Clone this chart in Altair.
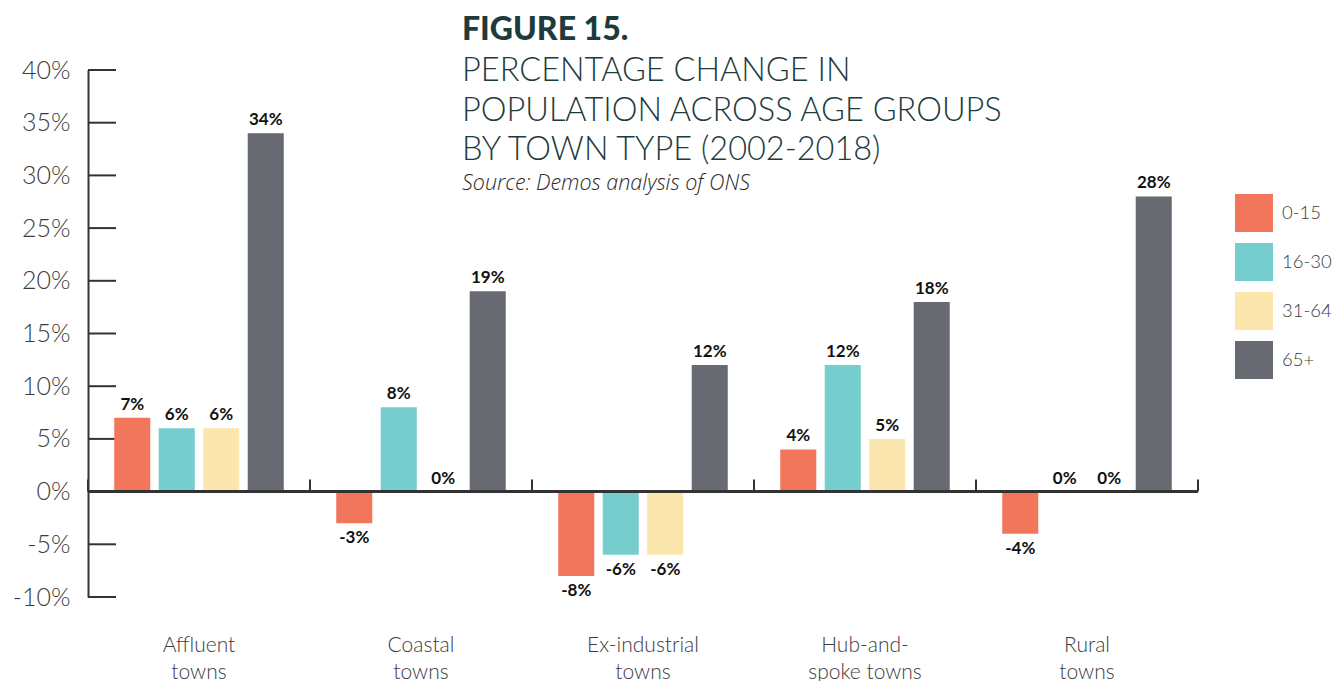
import altair as alt
import pandas as pd

# ---- data ----
town_types = ["Affluent towns", "Coastal towns", "Ex-industrial towns",
              "Hub-and-spoke towns", "Rural towns"]
age_groups = ["0-15", "16-30", "31-64", "65+"]
age_colors = ["#F2765C", "#76CDCD", "#FBE6AD", "#676A71"]
change_0_15 = [7, -3, -8, 4, -4]
change_16_30 = [6, 8, -6, 12, 0]
change_31_64 = [6, 0, -6, 5, 0]
change_65_plus = [34, 19, 12, 18, 28]
y_ticks = [-10, -5, 0, 5, 10, 15, 20, 25, 30, 35, 40]
title_head = "FIGURE 15."
title_lines = ["PERCENTAGE CHANGE IN", "POPULATION ACROSS AGE GROUPS",
               "BY TOWN TYPE (2002-2018)"]
source_note = "Source: Demos analysis of ONS"

series = [change_0_15, change_16_30, change_31_64, change_65_plus]
rows = []
for ai, age in enumerate(age_groups):
    for ti, town in enumerate(town_types):
        rows.append({"town": town, "age": age, "value": series[ai][ti]})
df = pd.DataFrame(rows)
ticks_df = pd.DataFrame({"tick": y_ticks})

FONT = "Lato"
W, H = 1110, 527
TEXT_DARK = "#1D3A3C"
AXIS_COL = "#333333"

x_enc = alt.X(
    "town:N", sort=town_types,
    scale=alt.Scale(paddingInner=0, paddingOuter=0),
    axis=alt.Axis(
        title=None, domain=False, ticks=False, labelAngle=0,
        labelExpr="datum.label == 'Hub-and-spoke towns' ? ['Hub-and-', 'spoke towns'] : split(datum.label, ' ')",
        labelFont=FONT, labelFontSize=21, labelFontWeight=300, labelColor="#3C3C3C",
        labelPadding=37, labelLineHeight=27, labelBaseline="top",
    ),
)
xoff = alt.XOffset("age:N", sort=age_groups,
                   scale=alt.Scale(paddingInner=0.19, paddingOuter=0.59))
y_scale = alt.Scale(domain=[-10, 40], nice=False, zero=False)
y_enc = alt.Y(
    "value:Q", scale=y_scale,
    axis=alt.Axis(
        title=None, values=y_ticks, ticks=False, grid=False,
        domainColor=AXIS_COL, domainWidth=2,
        labelExpr="datum.value + '%'",
        labelFont=FONT, labelFontSize=25, labelFontWeight=300, labelColor="#3C3C3C",
        labelPadding=18,
    ),
)

base = alt.Chart(df)

ytick_rules = alt.Chart(ticks_df).mark_rule(color=AXIS_COL, strokeWidth=2).encode(
    y=alt.Y("tick:Q", scale=y_scale),
    x=alt.value(0), x2=alt.value(28),
)

bars = base.mark_bar().encode(
    x=x_enc, xOffset=xoff, y=y_enc,
    color=alt.Color(
        "age:N", sort=age_groups,
        scale=alt.Scale(domain=age_groups, range=age_colors),
        legend=alt.Legend(
            title=None, orient="none", legendX=1147, legendY=124,
            symbolType="square", symbolSize=1444, symbolStrokeWidth=0,
            symbolOpacity=1, rowPadding=11, labelOffset=9, padding=0,
            labelFont=FONT, labelFontSize=18.5, labelFontWeight=300, labelColor="#3C3C3C",
        ),
    ),
)

zero_line = alt.Chart(ticks_df).mark_rule(color=AXIS_COL, strokeWidth=2).encode(
    y=alt.datum(0), x=alt.value(0), x2=alt.value(W),
)

band_ticks = alt.Chart(pd.DataFrame({"town": town_types})).mark_rule(
    color=AXIS_COL, strokeWidth=2, y2Offset=-12
).encode(
    x=alt.X("town:N", sort=town_types, bandPosition=0),
    y=alt.datum(0), y2=alt.datum(0),
)
end_tick = alt.Chart(pd.DataFrame({"town": town_types[-1:]})).mark_rule(
    color=AXIS_COL, strokeWidth=2, y2Offset=-12
).encode(
    x=alt.X("town:N", sort=town_types, bandPosition=1),
    y=alt.datum(0), y2=alt.datum(0),
)

lbl_common = dict(font=FONT, fontSize=17, fontWeight="bold", color="#111111")
pos_labels = base.transform_filter("datum.value >= 0").transform_calculate(
    lab="datum.value + '%'"
).mark_text(baseline="alphabetic", dy=-8, **lbl_common).encode(
    x=x_enc, xOffset=xoff, y=y_enc, text="lab:N"
)
neg_labels = base.transform_filter("datum.value < 0").transform_calculate(
    lab="datum.value + '%'"
).mark_text(baseline="top", dy=7, **lbl_common).encode(
    x=x_enc, xOffset=xoff, y=y_enc, text="lab:N"
)

t_head = alt.Chart(pd.DataFrame({"t": [title_head]})).mark_text(
    font=FONT, fontSize=32, fontWeight=900, color=TEXT_DARK,
    align="left", baseline="top",
).encode(text="t:N", x=alt.value(374), y=alt.value(-55))
t_body = alt.Chart(pd.DataFrame({"t": ["\n".join(title_lines)]})).mark_text(
    font=FONT, fontSize=32.5, fontWeight=300, color=TEXT_DARK,
    align="left", baseline="top", lineBreak="\n", lineHeight=39.5,
).encode(text="t:N", x=alt.value(374), y=alt.value(-15))
t_src = alt.Chart(pd.DataFrame({"t": [source_note]})).mark_text(
    font="Open Sans", fontSize=21.5, fontStyle="italic", fontWeight=300,
    color="#2A2A2A", align="left", baseline="top",
).encode(text="t:N", x=alt.value(374), y=alt.value(103))

chart = alt.layer(
    ytick_rules, bars, zero_line, band_ticks, end_tick, pos_labels, neg_labels,
    t_head, t_body, t_src,
).properties(
    width=W, height=H,
    background="white",
    autosize=alt.AutoSizeParams(type="none"),
    padding={"left": 80, "top": 62, "right": 135, "bottom": 84},
).configure_view(stroke=None, strokeWidth=0)

chart.save("out.html", embed_options={"renderer": "svg", "actions": False})
